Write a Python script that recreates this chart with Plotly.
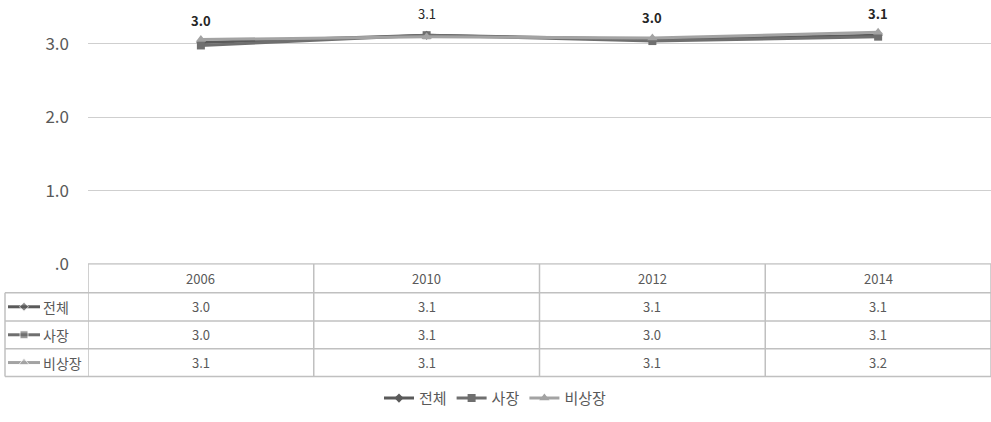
import plotly.graph_objects as go

years = ["2006", "2010", "2012", "2014"]
series_names = ["전체", "사장", "비상장"]
total_vals = [3.02, 3.12, 3.06, 3.12]
owner_vals = [2.98, 3.12, 3.04, 3.10]
nonowner_vals = [3.06, 3.10, 3.08, 3.16]
label_vals = ["3.0", "3.1", "3.0", "3.1"]
label_bold = [True, False, True, True]
y_tick_vals = [0, 1, 2, 3]
y_tick_text = [".0", "1.0", "2.0", "3.0"]

W, H = 991, 422
colors = ["#5a5a5a", "#6f6f6f", "#a3a3a3"]
symbols = ["diamond", "square", "triangle-up"]
msizes = [7, 8, 9]
all_vals = [total_vals, owner_vals, nonowner_vals]
FONT = "Noto Sans CJK KR"
TXT = "#595959"
BORDER = "#c0c0c0"

def py(y):
    return 1 - y / H

def px(x):
    return x / W

plot_left, plot_bottom = 88, 271
row_lines = [271, 300.5, 329.5, 358, 386.5]
label_left = 5

fig = go.Figure()
for name, vals, c, s, ms in zip(series_names, all_vals, colors, symbols, msizes):
    fig.add_trace(go.Scatter(
        x=years, y=vals, name=name, mode="lines+markers",
        line=dict(color=c, width=3),
        marker=dict(symbol=s, size=ms, color=c),
        hoverinfo="skip",
    ))

row_centers = [(row_lines[i + 1] + row_lines[i + 2]) / 2 for i in range(3)]
for i, (name, c, s, ms) in enumerate(zip(series_names, colors, symbols, msizes)):
    yc = row_centers[i]
    fig.add_trace(go.Scatter(
        x=[8, 24, 40], y=[yc, yc, yc], mode="lines+markers",
        line=dict(color=c, width=3),
        marker=dict(symbol=s, size=[0, ms, 0], color=c),
        xaxis="x2", yaxis="y2", showlegend=False, hoverinfo="skip",
    ))

annotations = []
for i, (v, lab, b) in enumerate(zip(total_vals, label_vals, label_bold)):
    annotations.append(dict(x=i, y=v, xref="x", yref="y",
                            text=("<b>" + lab + "</b>") if b else lab,
                            showarrow=False, yshift=22,
                            font=dict(family=FONT, size=13, color="#262626")))
for i, yr in enumerate(years):
    annotations.append(dict(x=i, y=py((row_lines[0] + row_lines[1]) / 2), xref="x", yref="paper",
                            text=yr, showarrow=False, yanchor="middle",
                            font=dict(family=FONT, size=13, color=TXT)))
for r, vals in enumerate(all_vals):
    yc = row_centers[r]
    for i, v in enumerate(vals):
        annotations.append(dict(x=i, y=py(yc), xref="x", yref="paper",
                                text=f"{v:.1f}", showarrow=False, yanchor="middle",
                                font=dict(family=FONT, size=13, color=TXT)))
    annotations.append(dict(x=41, y=yc, xref="x2", yref="y2", text=series_names[r],
                            xanchor="left", yanchor="middle", showarrow=False,
                            font=dict(family=FONT, size=14, color=TXT)))

shapes = []
shapes.append(dict(type="line", xref="paper", yref="paper",
                   x0=px(plot_left), x1=1, y0=py(row_lines[0]), y1=py(row_lines[0]),
                   line=dict(color="#b0b0b0", width=1)))
for yl in row_lines[1:]:
    shapes.append(dict(type="line", xref="paper", yref="paper",
                       x0=px(label_left), x1=1, y0=py(yl), y1=py(yl),
                       line=dict(color=BORDER, width=1.5)))
for k in range(len(years) + 1):
    shapes.append(dict(type="line", xref="x", yref="paper",
                       x0=k - 0.5, x1=k - 0.5, y0=py(row_lines[-1]), y1=py(row_lines[0]),
                       line=dict(color=BORDER, width=1.5)))
shapes.append(dict(type="line", xref="paper", yref="paper",
                   x0=px(label_left), x1=px(label_left), y0=py(row_lines[-1]), y1=py(row_lines[1]),
                   line=dict(color=BORDER, width=1.5)))

fig.update_layout(
    width=W, height=H,
    margin=dict(l=0, r=0, t=0, b=0),
    paper_bgcolor="white", plot_bgcolor="white",
    font=dict(family=FONT, color=TXT),
    xaxis=dict(type="category", domain=[px(plot_left), 1], range=[-0.5, 3.5], showticklabels=False,
               showgrid=False, zeroline=False, showline=False, ticks=""),
    yaxis=dict(domain=[py(plot_bottom), 1], range=[0, 3.6], tickvals=y_tick_vals,
               ticktext=y_tick_text, showgrid=True, gridcolor="#cfcfcf", gridwidth=1,
               zeroline=False, showline=False, ticks="", ticklabelstandoff=18,
               tickfont=dict(family=FONT, size=17, color=TXT)),
    xaxis2=dict(domain=[0, px(plot_left)], range=[0, plot_left], visible=False),
    yaxis2=dict(domain=[0, 1], range=[H, 0], visible=False, anchor="x2"),
    showlegend=True,
    legend=dict(orientation="h", x=0.5, xanchor="center", y=py(409), yanchor="middle",
                font=dict(family=FONT, size=15, color=TXT), itemwidth=30,
                bgcolor="rgba(0,0,0,0)"),
    annotations=annotations,
    shapes=shapes,
)

fig.write_html("out.html")
